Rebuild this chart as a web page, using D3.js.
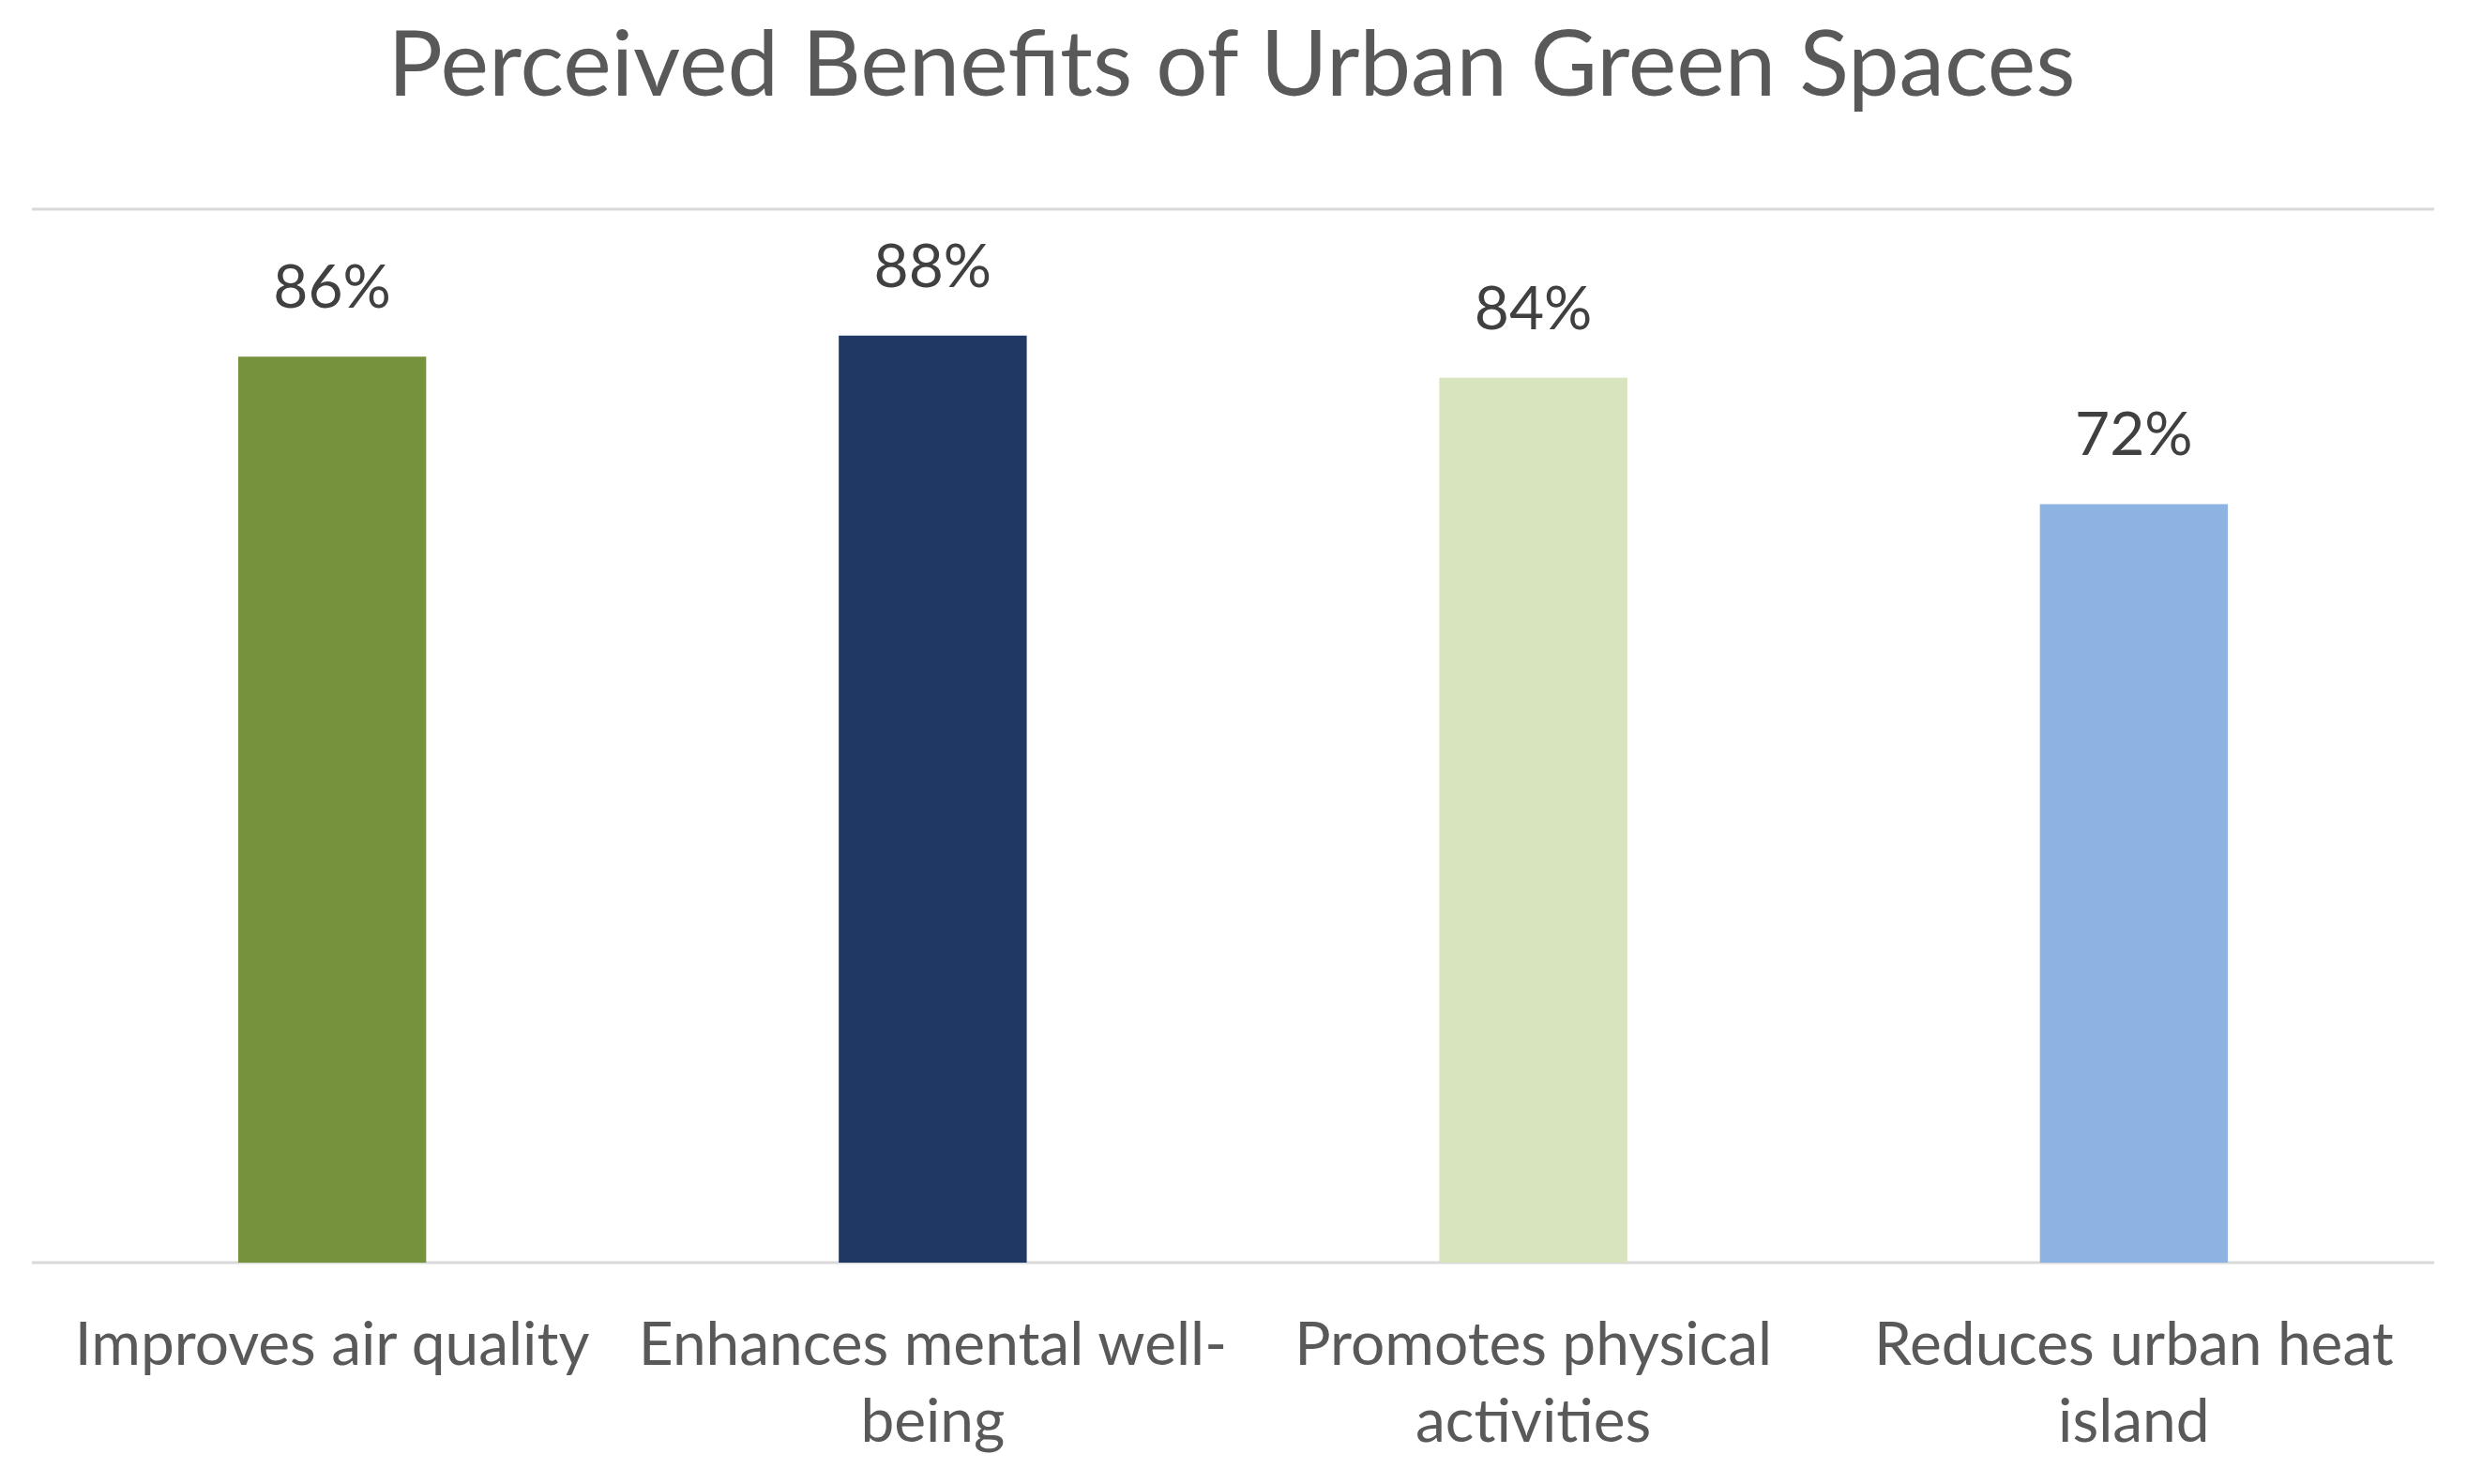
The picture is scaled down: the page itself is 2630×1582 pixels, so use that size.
<!DOCTYPE html>
<html>
<head>
<meta charset="utf-8">
<script src="https://cdn.jsdelivr.net/npm/d3@7"></script>
<style>
  html, body { margin: 0; padding: 0; background: #ffffff; }
  svg { display: block; }
</style>
</head>
<body>
<svg id="chart" width="2630" height="1582"></svg>
<script>
const categories = ["Improves air quality", "Enhances mental well-being", "Promotes physical activities", "Reduces urban heat island"];
const tickLabelLines = [["Improves air quality"], ["Enhances mental well-", "being"], ["Promotes physical", "activities"], ["Reduces urban heat", "island"]];
const values = [0.86, 0.88, 0.84, 0.72];
const barColors = ["#76923C", "#1F3864", "#D7E4BD", "#8DB3E2"];
const yTicks = [0, 1];
const titleText = "Perceived Benefits of Urban Green Spaces";

const W = 2630, H = 1582;
const margin = { left: 34, right: 35, top: 223, bottom: 1582 - 1346 };
const FONT = "Lato, 'Open Sans', sans-serif";

const svg = d3.select("#chart");

const x = d3.scaleBand()
  .domain(categories)
  .range([margin.left, W - margin.right])
  .paddingInner(0.687)
  .paddingOuter(0.3435);

const y = d3.scaleLinear()
  .domain([0, 1])
  .range([H - margin.bottom, margin.top]);

// gridlines
svg.append("g")
  .selectAll("line")
  .data(yTicks)
  .join("line")
  .attr("x1", margin.left)
  .attr("x2", W - margin.right)
  .attr("y1", d => y(d))
  .attr("y2", d => y(d))
  .attr("stroke", "#d9d9d9")
  .attr("stroke-width", 3);

// bars
svg.append("g")
  .selectAll("rect")
  .data(values)
  .join("rect")
  .attr("x", (d, i) => x(categories[i]))
  .attr("y", d => y(d))
  .attr("width", x.bandwidth())
  .attr("height", d => y(0) - y(d))
  .attr("fill", (d, i) => barColors[i]);

// data labels
svg.append("g")
  .selectAll("text")
  .data(values)
  .join("text")
  .attr("x", (d, i) => x(categories[i]) + x.bandwidth() / 2)
  .attr("y", d => y(d) - 52)
  .attr("text-anchor", "middle")
  .attr("font-family", FONT)
  .attr("font-size", 64)
  .attr("fill", "#404040")
  .text(d => d3.format(".0%")(d));

// category axis labels
const xAxis = d3.axisBottom(x).tickSize(0).tickFormat("");
const ax = svg.append("g")
  .attr("transform", `translate(0,${y(0)})`)
  .call(xAxis);
ax.select(".domain").remove();

const lab = svg.append("g")
  .selectAll("text")
  .data(categories)
  .join("text")
  .attr("x", d => x(d) + x.bandwidth() / 2)
  .attr("y", 1455)
  .attr("text-anchor", "middle")
  .attr("font-family", FONT)
  .attr("font-size", 64)
  .attr("fill", "#595959");
lab.each(function(d, i) {
  const t = d3.select(this);
  tickLabelLines[i].forEach((line, j) => {
    t.append("tspan")
      .attr("x", x(d) + x.bandwidth() / 2)
      .attr("dy", j === 0 ? 0 : 82)
      .text(line);
  });
});

// title
svg.append("text")
  .attr("x", 1313)
  .attr("y", 102)
  .attr("text-anchor", "middle")
  .attr("font-family", FONT)
  .attr("font-size", 97.5)
  .attr("fill", "#595959")
  .text(titleText);
</script>
</body>
</html>
